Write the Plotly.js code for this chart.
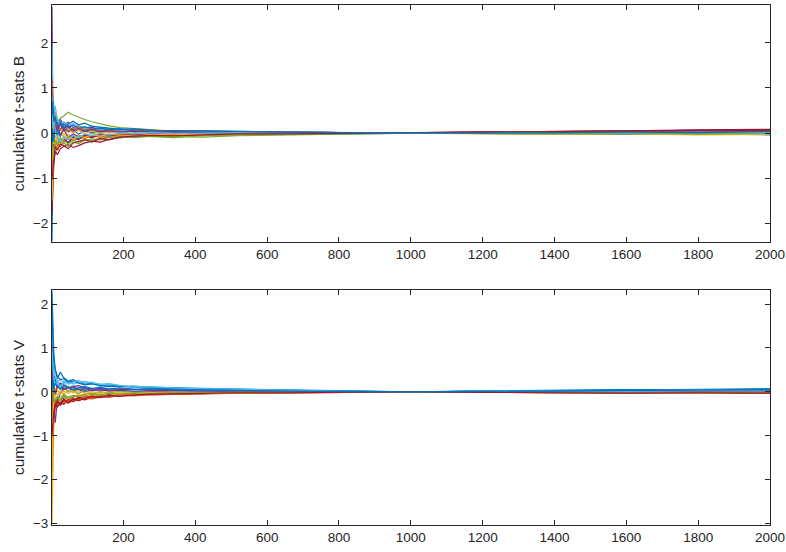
<html>
<head>
<script src="https://cdn.plot.ly/plotly-3.0.1.min.js"></script>
</head>
<body style="margin:0">
<div id="chart" style="width:786px;height:552px"></div>
<script>
// sample positions (trial index) shared by every path
let steps = [1, 3, 6, 10, 16, 24, 34, 46, 60, 75, 92, 112, 135, 160, 190, 230, 280, 340, 420, 520, 650, 800, 1000, 1200, 1400, 1600, 1800, 2000];

// cumulative t-stats B
let statsB = [
  [-2.40, -0.95, -0.60, -0.35, -0.10, -0.22, -0.15, -0.20, -0.08, -0.12, -0.05, -0.09, -0.04, -0.06, -0.02, -0.05, -0.03, -0.04, -0.02, -0.03, -0.01, -0.02, 0.00, 0.01, 0.02, 0.01, 0.03, 0.02],
  [0.60, 0.35, 0.15, 0.28, 0.10, 0.18, 0.05, 0.12, 0.02, 0.08, 0.03, 0.06, 0.01, 0.04, 0.05, 0.02, 0.04, 0.01, 0.03, 0.02, 0.01, 0.01, 0.00, -0.01, 0.01, 0.02, 0.03, 0.05],
  [-0.90, -0.50, -0.25, -0.05, -0.18, 0.02, -0.10, -0.03, -0.12, -0.05, -0.08, 0.01, -0.06, -0.02, -0.05, -0.01, -0.04, 0.02, -0.02, 0.01, -0.02, 0.00, 0.00, -0.02, -0.01, -0.03, -0.02, -0.03],
  [2.80, 0.90, 0.55, 0.40, 0.22, 0.30, 0.18, 0.24, 0.12, 0.16, 0.10, 0.13, 0.07, 0.09, 0.05, 0.07, 0.04, 0.05, 0.03, 0.03, 0.02, 0.01, 0.00, 0.02, 0.03, 0.04, 0.05, 0.06],
  [0.30, 0.55, 0.30, 0.42, 0.25, 0.33, 0.38, 0.46, 0.40, 0.35, 0.30, 0.25, 0.20, 0.16, 0.12, 0.10, 0.06, 0.04, 0.05, 0.03, 0.02, 0.01, 0.00, 0.01, 0.00, -0.01, 0.01, 0.00],
  [2.00, 0.80, 0.45, 0.60, 0.30, 0.20, 0.25, 0.15, 0.22, 0.14, 0.10, 0.16, 0.12, 0.08, 0.10, 0.06, 0.05, 0.03, 0.04, 0.02, 0.03, 0.01, 0.00, 0.00, -0.01, 0.00, -0.01, -0.01],
  [-1.80, -1.10, -0.70, -0.40, -0.48, -0.35, -0.30, -0.26, -0.32, -0.28, -0.22, -0.18, -0.20, -0.14, -0.10, -0.08, -0.07, -0.05, -0.04, -0.03, -0.02, -0.01, 0.00, 0.02, 0.04, 0.05, 0.07, 0.08],
  [1.10, 0.30, -0.10, 0.12, 0.05, -0.08, 0.10, 0.02, 0.08, -0.03, 0.05, 0.00, 0.04, 0.02, 0.06, 0.03, 0.04, 0.05, 0.03, 0.02, 0.02, 0.01, 0.00, 0.00, 0.01, 0.00, 0.01, 0.00],
  [-1.20, -0.60, -0.35, -0.20, -0.30, -0.15, -0.20, -0.10, -0.16, -0.08, -0.12, -0.06, -0.09, -0.05, -0.08, -0.04, -0.06, -0.03, -0.04, -0.03, -0.02, -0.01, 0.00, 0.01, -0.01, 0.00, -0.01, -0.02],
  [0.90, 0.20, -0.15, -0.30, -0.05, 0.10, -0.05, 0.08, 0.00, 0.06, -0.02, 0.04, 0.00, 0.03, -0.01, 0.04, 0.01, 0.03, 0.00, 0.02, 0.01, 0.00, 0.00, -0.01, -0.02, -0.01, -0.03, -0.02],
  [-0.40, 0.40, 0.20, 0.05, 0.15, -0.05, 0.08, -0.10, -0.02, -0.08, -0.04, -0.07, -0.02, -0.06, -0.03, -0.04, -0.02, -0.03, -0.01, -0.02, -0.01, 0.00, 0.00, 0.01, 0.00, 0.02, 0.01, 0.02],
  [-0.60, -0.30, -0.45, -0.25, -0.35, -0.28, -0.22, -0.30, -0.20, -0.24, -0.16, -0.13, -0.15, -0.10, -0.08, -0.10, -0.07, -0.08, -0.09, -0.06, -0.04, -0.02, 0.00, 0.01, 0.02, 0.01, 0.00, 0.01],
  [1.50, 0.70, 0.35, 0.20, 0.32, 0.15, 0.22, 0.10, 0.18, 0.08, 0.12, 0.05, 0.09, 0.04, 0.07, 0.03, 0.04, 0.02, 0.03, 0.01, 0.02, 0.01, 0.00, 0.00, 0.01, 0.00, 0.01, 0.00],
  [0.20, -0.40, -0.25, -0.45, -0.20, -0.30, -0.12, -0.22, -0.10, -0.15, -0.06, -0.10, -0.04, -0.07, -0.03, -0.05, -0.02, -0.04, -0.01, -0.02, -0.01, 0.00, 0.00, 0.02, 0.03, 0.05, 0.06, 0.07],
  [-0.30, 0.10, -0.20, 0.15, -0.05, 0.08, 0.20, 0.12, 0.18, 0.10, 0.14, 0.09, 0.11, 0.07, 0.09, 0.05, 0.06, 0.04, 0.05, 0.03, 0.02, 0.01, 0.00, -0.01, -0.02, -0.03, -0.02, -0.04],
  [1.20, 0.50, 0.25, 0.10, 0.22, 0.08, 0.15, 0.05, 0.10, 0.12, 0.07, 0.09, 0.05, 0.06, 0.03, 0.04, 0.05, 0.02, 0.03, 0.01, 0.02, 0.01, 0.00, 0.01, 0.02, 0.03, 0.02, 0.04],
  [-1.50, -0.70, -0.30, -0.40, -0.18, -0.28, -0.12, -0.08, -0.14, -0.06, -0.10, -0.04, -0.07, -0.03, -0.05, -0.06, -0.03, -0.04, -0.02, -0.03, -0.01, -0.01, 0.00, -0.01, -0.03, -0.02, -0.04, -0.03],
  [0.50, 0.20, 0.40, 0.18, 0.08, 0.20, 0.10, 0.16, 0.06, 0.10, 0.04, 0.08, 0.03, 0.05, 0.02, 0.04, 0.02, 0.03, 0.01, 0.02, 0.01, 0.00, 0.00, 0.01, 0.00, 0.02, 0.03, 0.02],
  [-0.20, -0.50, -0.30, -0.15, -0.25, -0.10, -0.18, -0.24, -0.16, -0.20, -0.14, -0.17, -0.12, -0.09, -0.11, -0.07, -0.08, -0.10, -0.06, -0.04, -0.03, -0.02, 0.00, -0.01, -0.02, -0.01, -0.02, -0.01],
  [0.80, 0.10, 0.30, 0.05, -0.10, -0.20, -0.08, -0.15, -0.05, -0.10, -0.02, -0.06, -0.01, -0.04, 0.00, -0.02, 0.01, -0.01, 0.00, 0.01, 0.00, 0.00, 0.00, 0.01, 0.02, 0.01, 0.02, 0.01],
  [-1.00, -0.80, -0.55, -0.30, -0.38, -0.25, -0.28, -0.35, -0.22, -0.18, -0.15, -0.20, -0.12, -0.15, -0.09, -0.07, -0.05, -0.06, -0.04, -0.02, -0.02, -0.01, 0.00, 0.01, 0.03, 0.04, 0.06, 0.05],
  [0.40, 0.70, 0.25, 0.35, 0.15, 0.25, 0.12, 0.20, 0.26, 0.18, 0.22, 0.15, 0.13, 0.10, 0.08, 0.09, 0.06, 0.05, 0.04, 0.03, 0.02, 0.01, 0.00, 0.00, 0.01, 0.02, 0.01, 0.03]
];

// cumulative t-stats V
let statsV = [
  [2.30, 1.40, 0.90, 0.50, 0.30, 0.45, 0.32, 0.25, 0.28, 0.22, 0.18, 0.20, 0.15, 0.16, 0.12, 0.13, 0.10, 0.09, 0.08, 0.06, 0.04, 0.02, 0.00, 0.02, 0.03, 0.04, 0.05, 0.06],
  [-0.80, -0.40, -0.20, -0.30, -0.15, -0.22, -0.10, -0.18, -0.12, -0.08, -0.10, -0.06, -0.08, -0.05, -0.06, -0.03, -0.04, -0.02, -0.03, -0.02, -0.01, 0.00, 0.00, -0.01, 0.00, -0.01, -0.02, -0.01],
  [-3.00, -1.60, -0.80, -0.45, -0.30, -0.20, -0.25, -0.15, -0.22, -0.18, -0.12, -0.14, -0.10, -0.08, -0.09, -0.06, -0.05, -0.04, -0.03, -0.02, -0.01, -0.01, 0.00, 0.00, 0.01, 0.00, -0.01, 0.00],
  [1.30, 0.60, -0.30, -0.70, -0.20, -0.05, 0.10, 0.02, 0.08, 0.05, 0.00, 0.04, 0.02, 0.05, 0.03, 0.04, 0.02, 0.03, 0.01, 0.02, 0.01, 0.00, 0.00, 0.01, 0.02, 0.01, 0.03, 0.02],
  [-1.20, -0.50, 0.20, 0.00, 0.15, 0.05, 0.12, 0.00, 0.08, -0.04, 0.04, -0.05, 0.00, -0.03, 0.02, -0.02, 0.00, -0.01, 0.01, 0.00, 0.01, 0.00, 0.00, -0.01, -0.02, -0.01, 0.00, -0.01],
  [1.00, 0.40, 0.20, 0.30, 0.22, 0.28, 0.20, 0.25, 0.18, 0.22, 0.24, 0.20, 0.18, 0.17, 0.14, 0.12, 0.10, 0.08, 0.07, 0.05, 0.03, 0.01, 0.00, 0.01, 0.00, 0.02, 0.01, 0.02],
  [-0.40, -0.60, -0.30, -0.20, -0.35, -0.25, -0.28, -0.18, -0.22, -0.15, -0.18, -0.12, -0.10, -0.12, -0.08, -0.06, -0.07, -0.05, -0.04, -0.03, -0.02, -0.01, 0.00, 0.00, -0.01, -0.02, -0.01, -0.02],
  [0.50, 0.80, 0.40, 0.25, 0.10, 0.18, 0.05, 0.12, 0.02, 0.08, 0.04, 0.06, 0.08, 0.05, 0.07, 0.05, 0.06, 0.04, 0.05, 0.03, 0.02, 0.01, 0.00, 0.02, 0.03, 0.04, 0.05, 0.07],
  [-1.80, -0.90, -0.40, -0.18, -0.25, -0.30, -0.22, -0.20, -0.15, -0.18, -0.10, -0.12, -0.08, -0.10, -0.06, -0.07, -0.04, -0.05, -0.03, -0.02, -0.02, -0.01, 0.00, 0.00, 0.01, 0.00, 0.01, 0.01],
  [0.10, -0.30, -0.10, 0.05, -0.08, 0.02, -0.05, 0.04, -0.02, 0.03, -0.04, 0.00, -0.03, 0.01, -0.02, 0.00, -0.01, 0.01, 0.00, 0.01, 0.00, 0.00, 0.00, 0.00, -0.01, -0.02, -0.01, -0.03],
  [0.20, 0.30, 0.15, 0.20, 0.10, 0.14, 0.05, 0.10, 0.12, 0.06, 0.08, 0.03, 0.05, 0.02, 0.04, 0.01, 0.03, 0.02, 0.01, 0.01, 0.00, 0.00, 0.00, -0.01, -0.02, -0.03, -0.02, -0.03],
  [-0.60, -0.20, -0.10, -0.25, -0.12, -0.20, -0.08, -0.15, -0.10, -0.12, -0.06, -0.09, -0.05, -0.07, -0.04, -0.05, -0.03, -0.02, -0.03, -0.01, -0.02, -0.01, 0.00, 0.01, 0.00, 0.01, 0.00, 0.01],
  [1.60, 1.10, 0.60, 0.35, 0.25, 0.15, 0.20, 0.10, 0.14, 0.08, 0.10, 0.06, 0.12, 0.05, 0.07, 0.03, 0.05, 0.02, 0.03, 0.02, 0.01, 0.01, 0.00, 0.02, 0.04, 0.03, 0.05, 0.04],
  [0.30, -0.10, -0.50, -0.35, -0.20, -0.28, -0.15, -0.25, -0.20, -0.12, -0.16, -0.10, -0.12, -0.06, -0.08, -0.04, -0.06, -0.03, -0.04, -0.02, -0.01, -0.01, 0.00, 0.00, 0.02, 0.03, 0.02, 0.04],
  [1.80, 1.20, 0.70, 0.52, 0.35, 0.28, 0.30, 0.22, 0.25, 0.20, 0.16, 0.18, 0.14, 0.12, 0.13, 0.10, 0.08, 0.09, 0.06, 0.05, 0.03, 0.02, 0.00, 0.01, 0.03, 0.05, 0.04, 0.06],
  [-0.50, -0.20, -0.35, -0.15, -0.28, -0.30, -0.22, -0.26, -0.18, -0.20, -0.14, -0.16, -0.12, -0.10, -0.08, -0.09, -0.06, -0.05, -0.04, -0.03, -0.02, -0.01, 0.00, -0.01, -0.02, -0.01, -0.03, -0.02],
  [-2.00, -0.60, -0.20, -0.10, 0.05, -0.06, 0.02, -0.04, 0.03, -0.08, -0.05, -0.10, -0.06, -0.08, -0.04, -0.05, -0.02, -0.03, -0.01, -0.02, -0.01, 0.00, 0.00, 0.00, -0.01, -0.01, -0.02, -0.01],
  [0.60, 0.20, 0.10, -0.05, 0.12, 0.20, 0.15, 0.08, 0.12, 0.14, 0.10, 0.06, 0.08, 0.04, 0.05, 0.06, 0.03, 0.04, 0.02, 0.02, 0.01, 0.01, 0.00, 0.00, 0.01, 0.00, 0.01, 0.00],
  [0.20, -0.10, -0.25, -0.18, -0.10, -0.15, -0.05, -0.12, -0.08, -0.10, -0.06, -0.04, -0.07, -0.03, -0.05, -0.02, -0.04, -0.01, -0.02, -0.01, -0.01, 0.00, 0.00, -0.01, -0.01, -0.02, -0.01, -0.02],
  [0.90, 0.50, 0.30, 0.15, 0.20, 0.10, 0.25, 0.18, 0.22, 0.26, 0.20, 0.22, 0.17, 0.19, 0.15, 0.11, 0.12, 0.09, 0.07, 0.05, 0.04, 0.02, 0.00, 0.01, 0.02, 0.01, 0.03, 0.02],
  [-1.00, -0.70, -0.45, -0.28, -0.22, -0.30, -0.18, -0.24, -0.16, -0.20, -0.15, -0.10, -0.13, -0.08, -0.10, -0.07, -0.05, -0.04, -0.03, -0.02, -0.02, -0.01, 0.00, -0.01, -0.02, -0.03, -0.02, -0.03],
  [0.00, 0.30, 0.10, 0.20, 0.12, 0.06, 0.15, 0.10, 0.05, 0.09, 0.12, 0.08, 0.10, 0.07, 0.09, 0.06, 0.07, 0.05, 0.04, 0.03, 0.02, 0.01, 0.00, 0.01, 0.02, 0.03, 0.04, 0.05]
];

let xTicks = [200, 400, 600, 800, 1000, 1200, 1400, 1600, 1800, 2000];
let yTicksB = [-2, -1, 0, 1, 2];
let yTicksV = [-3, -2, -1, 0, 1, 2];

// matlab default line order
let colors = ['#0072BD', '#D95319', '#EDB120', '#7E2F8E', '#77AC30', '#4DBEEE', '#A2142F'];

let data = [];
statsB.forEach((ys, i) => {
  data.push({x: steps, y: ys, type: 'scatter', mode: 'lines', xaxis: 'x', yaxis: 'y',
             line: {color: colors[i % 7], width: 1.2}, showlegend: false, hoverinfo: 'skip'});
});
statsV.forEach((ys, i) => {
  data.push({x: steps, y: ys, type: 'scatter', mode: 'lines', xaxis: 'x2', yaxis: 'y2',
             line: {color: colors[i % 7], width: 1.2}, showlegend: false, hoverinfo: 'skip'});
});

let axisStyle = {
  showline: true, mirror: 'ticks', linecolor: '#262626', linewidth: 1,
  ticks: 'inside', ticklen: 5, tickcolor: '#262626', showgrid: false, zeroline: false,
  tickfont: {size: 13.5, color: '#262626'}
};

let layout = {
  width: 786, height: 552,
  margin: {l: 52, r: 16, t: 5, b: 27},
  paper_bgcolor: 'white', plot_bgcolor: 'white',
  font: {family: 'Liberation Sans, Arial, sans-serif', color: '#262626'},
  xaxis: Object.assign({}, axisStyle, {range: [1, 2000], tickvals: xTicks, anchor: 'y'}),
  yaxis: Object.assign({}, axisStyle, {range: [-2.42, 2.84], tickvals: yTicksB, domain: [0.544, 1],
    title: {text: 'cumulative t-stats B', font: {size: 15.5}, standoff: 4}}),
  xaxis2: Object.assign({}, axisStyle, {range: [1, 2000], tickvals: xTicks, anchor: 'y2'}),
  yaxis2: Object.assign({}, axisStyle, {range: [-3.03, 2.32], tickvals: yTicksV, domain: [0, 0.452],
    title: {text: 'cumulative t-stats V', font: {size: 15.5}, standoff: 4}})
};

Plotly.newPlot('chart', data, layout, {staticPlot: true});
</script>
</body>
</html>
